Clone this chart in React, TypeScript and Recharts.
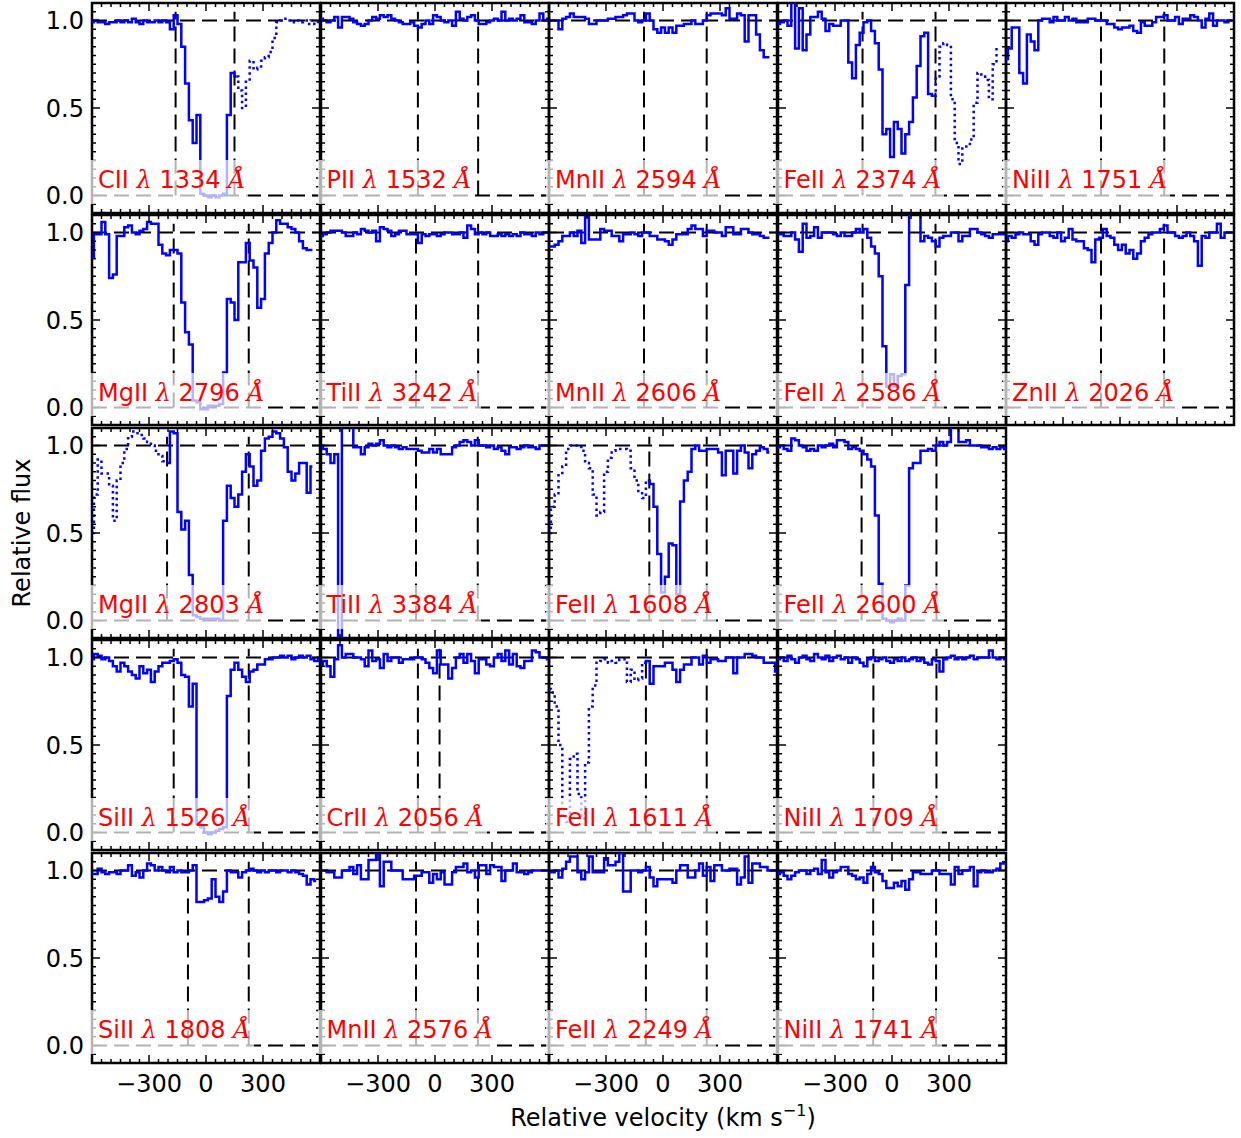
import React from 'react'
import { LineChart, Line, XAxis, YAxis, ReferenceLine, ReferenceArea } from 'recharts'

// velocity grid of the rebinned spectra (km/s)
const velocity = [
  -600, -580, -560, -540, -520, -500, -480, -460, -440, -420,
  -400, -380, -360, -340, -320, -300, -280, -260, -240, -220,
  -200, -180, -160, -140, -120, -100, -80, -60, -40, -20,
  0, 20, 40, 60, 80, 100, 120, 140, 160, 180,
  200, 220, 240, 260, 280, 300, 320, 340, 360, 380,
  400, 420, 440, 460, 480, 500, 520, 540, 560, 580,
  600,
]

// normalised flux, one value per velocity bin (null = no coverage)
const ciiFlux = [
  0.99, 1.0, 0.99, 0.99, 0.98, 0.99, 0.99, 1.0, 0.99, 1.0,
  0.99, 1.01, 0.99, 0.98, 1.0, 0.99, 0.99, 1.0, 0.99, 1.0,
  0.99, 0.95, 1.03, 0.98, 0.85, 0.64, 0.43, 0.3, 0.46, 0.01,
  0.0, -0.01, 0.0, -0.01, 0.0, 0.01, 0.46, 0.7, 0.68, 0.6,
  0.5, 0.65, 0.77, 0.72, 0.73, 0.77, 0.79, 0.82, 0.9, 0.99,
  1.0, 1.01, 1.0, 0.99, 1.0, 0.99, 1.0, 0.98, 1.0, 0.98,
  1.0,
]
const mgii2796Flux = [
  0.86, 0.99, 0.99, 1.06, 0.99, 0.74, 0.76, 0.98, 0.98, 1.03,
  1.04, 1.0, 0.99, 1.01, 1.02, 1.06, 1.05, 1.05, 0.93, 0.88,
  0.87, 0.9, 0.9, 0.88, 0.6, 0.43, 0.36, 0.04, 0.03, -0.01,
  -0.01, 0.01, 0.01, 0.01, 0.02, 0.2, 0.62, 0.6, 0.5, 0.83,
  0.83, 0.94, 0.84, 0.8, 0.57, 0.62, 0.88, 0.94, 1.0, 1.07,
  1.05, 1.05, 1.03, 1.02, 1.0, 0.95, 0.91, 0.9, 0.9, null,
  null,
]
const mgii2803Flux = [
  0.5, 0.72, 0.92, 0.84, 0.84, 0.77, 0.57, 0.8, 0.9, 0.98,
  1.05, 1.08, 1.07, 1.06, 1.04, 1.02, 1.0, 0.97, 0.94, 0.91,
  0.9, 1.08, 1.07, 0.62, 0.52, 0.57, 0.26, 0.03, 0.02, 0.01,
  0.01, 0.01, 0.01, 0.01, 0.0, 0.57, 0.77, 0.7, 0.65, 0.72,
  0.85, 0.95, 0.88, 0.77, 0.8, 0.97, 1.04, 1.05, 1.08, 1.07,
  1.04, 0.99, 0.85, 0.8, 0.84, 0.9, 0.9, 0.73, 0.88, null,
  null,
]
const sii1526Flux = [
  0.99, 1.02, 1.01, 0.99, 1.0, 0.98, 0.95, 0.92, 0.97, 0.95,
  0.92, 0.9, 0.88, 0.95, 0.91, 0.93, 0.86, 0.92, 0.95, 0.97,
  0.97, 0.98, 0.99, 0.97, 0.9, 0.89, 0.72, 0.85, 0.05, 0.03,
  0.0, -0.01, 0.0, 0.01, 0.02, 0.03, 0.78, 0.93, 0.97, 0.93,
  0.89, 0.86, 0.92, 0.93, 0.96, 0.96, 0.99, 0.99, 1.0, 1.0,
  1.01, 1.0, 1.01, 0.99, 1.0, 1.01, 1.0, 1.01, 0.99, 0.98,
  1.0,
]
const sii1808Flux = [
  0.98, 0.98, 1.01, 0.99, 0.98, 0.99, 0.99, 0.98, 1.0, 1.0,
  1.03, 0.97, 0.99, 0.96, 1.0, 1.04, 1.03, 1.0, 1.02, 1.0,
  0.99, 1.02, 0.99, 1.0, 0.99, 0.99, 1.0, 1.03, 0.82, 0.82,
  0.83, 0.84, 0.95, 0.85, 0.82, 0.88, 1.0, 0.99, 0.99, 0.96,
  0.99, 1.0, 1.01, 1.0, 0.99, 1.0, 0.99, 1.0, 1.0, 0.99,
  1.0, 1.0, 0.99, 1.0, 0.99, 0.98, 0.97, 0.92, 0.95, 0.94,
  null,
]
const pii1532Flux = [
  1.01, 1.0, 0.99, 1.0, 1.02, 0.96, 1.02, 1.02, 1.01, 0.99,
  0.98, 0.97, 0.98, 1.0, 1.02, 1.01, 1.03, 1.02, 1.03, 1.01,
  1.0, 0.99, 0.98, 0.98, 0.99, 0.97, 0.96, 0.98, 1.0, 0.98,
  1.03, 1.02, 1.0, 0.99, 1.0, 0.97, 1.05, 1.01, 1.0, 1.02,
  1.03, 1.0, 0.98, 0.98, 0.99, 1.0, 1.01, 1.0, 1.05, 1.0,
  1.01, 1.0, 1.01, 1.03, 0.99, 0.99, 0.98, 1.0, 1.04, 1.0,
  1.01,
]
const tii3242Flux = [
  0.98, 0.99, 1.0, 1.01, 1.01, 1.01, 1.0, 0.98, 0.98, 1.0,
  0.99, 1.02, 1.01, 1.0, 1.01, 0.95, 1.03, 1.02, 1.01, 0.98,
  0.99, 1.01, 1.01, 0.99, 0.99, 0.99, 0.94, 0.99, 0.98, 0.99,
  0.99, 0.98, 0.99, 1.0, 1.0, 0.99, 0.99, 1.0, 0.97, 1.04,
  1.02, 0.99, 1.0, 0.99, 1.0, 0.98, 0.98, 0.99, 0.98, 0.99,
  0.98, 0.99, 0.98, 1.0, 0.99, 0.99, 0.98, 1.0, 0.99, 1.0,
  1.0,
]
const tii3384Flux = [
  1.0, 0.98, 0.95, 0.9, 0.95, -0.3, 1.3, 1.3, 1.3, 0.99,
  0.99, 0.95, 0.99, 1.01, 1.0, 1.01, 1.03, 1.0, 0.99, 1.0,
  0.99, 0.98, 0.99, 0.98, 0.98, 0.98, 0.97, 0.96, 0.96, 0.98,
  0.96, 0.98, 0.95, 0.95, 0.95, 0.99, 1.0, 1.02, 1.03, 1.02,
  1.0, 1.03, 1.0, 1.0, 0.99, 1.0, 0.98, 0.99, 0.97, 0.95,
  0.99, 0.99, 0.98, 0.99, 1.0, 0.99, 0.99, 0.98, 1.0, 1.0,
  1.0,
]
const crii2056Flux = [
  0.96, 0.98, 0.95, 0.89, 0.99, 1.07, 1.0, 1.02, 1.02, 1.0,
  1.0, 0.99, 0.95, 1.04, 0.98, 0.99, 0.94, 1.02, 0.98, 1.0,
  1.0, 0.97, 0.99, 0.99, 0.99, 1.0, 1.0, 0.99, 0.97, 0.94,
  0.91, 1.04, 0.96, 0.96, 0.88, 0.94, 1.0, 1.02, 0.97, 1.02,
  0.98, 0.91, 0.99, 0.99, 0.96, 0.95, 1.0, 1.02, 0.98, 1.04,
  0.96, 1.02, 0.95, 0.94, 0.98, 0.98, 1.04, 1.03, 1.0, 1.0,
  0.99,
]
const mnii2576Flux = [
  1.0, 1.0, 0.99, 0.99, 0.96, 0.96, 1.0, 1.0, 1.02, 0.98,
  1.03, 0.95, 0.95, 1.06, 1.06, 1.12, 0.91, 1.05, 1.05, 1.0,
  1.0, 1.0, 0.95, 0.95, 0.95, 0.97, 0.97, 0.99, 0.99, 0.93,
  0.98, 0.95, 0.99, 0.92, 0.92, 0.99, 1.02, 1.02, 1.04, 0.99,
  1.0, 0.96, 1.03, 1.03, 0.98, 1.03, 1.02, 1.02, 0.94, 1.0,
  1.0, 1.04, 0.99, 0.99, 0.98, 0.99, 1.0, 1.0, 1.0, 1.0,
  1.0,
]
const mnii2594Flux = [
  1.0, 1.0, 1.0, 0.95, 1.01, 1.02, 1.04, 1.02, 1.02, 1.02,
  1.01, 0.98, 0.98, 1.0, 1.0, 1.0, 1.01, 1.01, 1.02, 1.02,
  1.03, 1.04, 1.04, 1.0, 0.99, 1.0, 1.04, 1.0, 0.95, 0.93,
  0.96, 0.93, 0.96, 0.93, 0.97, 0.97, 0.98, 0.98, 1.0, 0.98,
  0.98, 1.0, 1.03, 1.04, 1.04, 1.04, 1.03, 1.07, 1.01, 1.01,
  1.04, 1.03, 0.88, 1.03, 1.03, 0.92, 0.83, 0.79, 0.79, null,
  null,
]
const mnii2606Flux = [
  0.92, 0.92, 0.93, 0.95, 0.98, 0.98, 1.0, 0.98, 1.01, 0.94,
  1.09, 0.96, 0.96, 0.96, 1.02, 1.01, 1.01, 0.98, 0.98, 0.95,
  0.99, 0.99, 1.0, 0.99, 0.98, 1.0, 1.0, 0.98, 0.98, 0.96,
  0.96, 0.95, 0.93, 0.96, 0.99, 0.99, 0.99, 1.02, 1.04, 1.02,
  1.02, 0.98, 1.01, 1.01, 1.0, 1.0, 0.98, 1.03, 1.03, 0.99,
  0.99, 1.02, 1.02, 1.0, 0.99, 0.99, 0.98, 0.97, 0.97, null,
  null,
]
const feii1608Flux = [
  0.5, 0.65, 0.72, 0.83, 0.88, 0.98, 1.0, 1.0, 1.0, 0.97,
  0.9, 0.87, 0.72, 0.6, 0.62, 0.85, 0.93, 0.97, 0.98, 0.98,
  0.98, 0.97, 0.87, 0.8, 0.74, 0.7, 0.8, 0.78, 0.65, 0.38,
  0.16, 0.25, 0.44, 0.43, 0.15, 0.68, 0.8, 0.85, 0.98, 1.0,
  0.97, 0.97, 0.98, 0.98, 0.98, 0.96, 0.83, 0.97, 0.97, 0.84,
  0.97, 1.0, 0.96, 0.87, 0.95, 0.97, 0.99, 0.98, 0.96, null,
  null,
]
const feii1611Flux = [
  0.82, 0.8, 0.72, 0.5, 0.1, 0.06, 0.42, 0.45, 0.22, 0.08,
  0.4, 0.72, 0.84, 0.97, 0.98, 0.99, 0.97, 0.98, 0.97, 0.99,
  0.99, 0.86, 0.93, 0.87, 0.88, 0.97, 0.98, 0.85, 0.95, 0.95,
  0.95, 0.97, 0.97, 0.93, 0.86, 0.93, 0.96, 0.96, 1.0, 1.0,
  0.96, 1.01, 0.97, 0.99, 0.99, 0.98, 0.98, 1.0, 1.0, 0.91,
  1.0, 1.0, 1.02, 1.02, 1.01, 1.0, 1.0, 0.97, 0.97, 0.97,
  0.92,
]
const feii2249Flux = [
  0.99, 0.99, 1.0, 0.96, 1.01, 1.05, 1.08, 1.08, 0.99, 0.95,
  0.99, 1.08, 0.99, 0.99, 0.99, 1.07, 1.03, 1.03, 1.05, 1.1,
  0.88, 0.88, 1.0, 1.0, 0.99, 1.0, 1.02, 0.96, 0.91, 0.95,
  0.95, 0.95, 0.95, 0.93, 1.0, 1.03, 1.03, 0.96, 0.96, 1.0,
  1.04, 0.97, 1.02, 0.94, 1.03, 1.03, 1.0, 1.0, 1.01, 1.01,
  0.92, 0.96, 1.08, 0.93, 1.04, 1.04, 1.02, 1.02, 1.0, 1.0,
  1.0,
]
const feii2374Flux = [
  0.98, 0.99, 1.0, 0.97, 1.15, 0.84, 1.07, 0.83, 0.92, 1.02,
  1.02, 1.05, 1.01, 0.94, 0.98, 0.97, 0.97, 1.0, 1.0, 0.76,
  0.67, 0.86, 0.93, 0.99, 1.0, 0.94, 0.87, 0.72, 0.35, 0.38,
  0.22, 0.42, 0.38, 0.24, 0.35, 0.42, 0.56, 0.74, 0.91, 0.93,
  0.58, 0.57, 0.68, 0.85, 0.87, 0.86, 0.55, 0.3, 0.18, 0.28,
  0.28, 0.32, 0.53, 0.7, 0.68, 0.66, 0.55, 0.75, 0.85, null,
  null,
]
const feii2586Flux = [
  0.99, 0.99, 0.98, 0.98, 1.0, 0.96, 0.89, 1.05, 0.97, 0.98,
  1.03, 0.97, 1.0, 1.0, 1.0, 0.99, 0.98, 1.0, 0.98, 0.98,
  1.0, 1.02, 1.0, 1.02, 0.97, 0.92, 0.88, 0.75, 0.35, 0.12,
  0.19, 0.12, 0.18, 0.19, 0.7, 1.2, 1.2, 1.2, 0.95, 0.98,
  0.97, 0.95, 0.92, 0.97, 0.98, 0.98, 1.0, 1.0, 0.95, 0.98,
  0.98, 1.02, 1.02, 1.0, 0.99, 0.98, 0.97, 0.99, 0.99, 0.99,
  0.99,
]
const feii2600Flux = [
  0.99, 1.0, 0.98, 0.97, 1.04, 1.03, 1.0, 0.99, 0.97, 0.98,
  0.97, 1.0, 0.99, 1.0, 1.01, 0.99, 1.03, 1.03, 1.02, 0.98,
  0.99, 0.98, 0.97, 0.95, 0.92, 0.88, 0.6, 0.21, 0.01, 0.0,
  -0.01, 0.0, 0.01, 0.0, 0.2, 0.87, 0.9, 0.9, 0.97, 0.97,
  0.98, 0.97, 1.0, 1.02, 1.0, 1.02, 1.12, 1.12, 1.02, 1.02,
  1.03, 1.0, 1.0, 1.0, 0.99, 0.99, 0.98, 0.99, 0.98, 0.99,
  0.98,
]
const nii1709Flux = [
  0.99, 1.0, 0.98, 1.01, 0.99, 0.97, 1.0, 1.01, 0.99, 0.98,
  1.02, 1.0, 0.99, 1.01, 0.98, 1.0, 1.01, 0.99, 1.0, 0.97,
  1.0, 0.99, 0.97, 0.95, 0.99, 1.0, 0.98, 0.99, 1.0, 0.98,
  0.97, 0.99, 0.98, 1.0, 0.98, 0.99, 1.0, 0.98, 0.99, 0.97,
  0.96, 0.99, 0.98, 0.92, 0.99, 1.0, 1.01, 0.99, 1.0, 0.99,
  1.0, 1.01, 0.99, 1.0, 1.0, 1.0, 1.04, 1.0, 0.99, 1.0,
  0.99,
]
const nii1741Flux = [
  0.98, 0.99, 0.97, 0.95, 0.97, 0.99, 1.0, 1.0, 0.98, 1.0,
  1.01, 0.98, 1.06, 0.99, 0.96, 0.99, 1.0, 1.02, 1.02, 0.98,
  0.97, 0.95, 0.96, 0.93, 0.98, 1.02, 0.99, 0.98, 0.94, 0.9,
  0.9, 0.93, 0.91, 0.94, 0.89, 0.95, 0.99, 0.99, 0.98, 0.98,
  0.98, 1.0, 1.0, 0.98, 0.98, 0.98, 0.92, 1.02, 0.98, 1.0,
  1.0, 1.02, 0.91, 0.99, 1.0, 0.99, 0.99, 1.0, 1.01, 1.04,
  1.04,
]
const nii1751Flux = [
  0.78, 0.84, 0.96, 0.96, 0.7, 0.64, 0.92, 0.88, 0.83, 1.0,
  1.01, 1.01, 0.99, 1.02, 1.0, 1.0, 1.02, 1.0, 1.01, 0.99,
  0.99, 0.99, 1.01, 1.01, 1.0, 1.0, 1.0, 0.98, 0.98, 0.96,
  0.95, 0.96, 0.96, 0.97, 0.94, 0.93, 0.99, 0.97, 0.97, 0.99,
  1.02, 1.02, 1.03, 1.0, 1.0, 1.02, 0.98, 1.01, 1.01, 1.03,
  1.02, 1.0, 0.96, 1.01, 1.04, 0.97, 1.0, 1.0, 0.99, 1.0,
  1.0,
]
const znii2026Flux = [
  0.95, 0.98, 0.97, 0.99, 1.0, 0.99, 0.99, 0.95, 0.93, 0.99,
  1.0, 1.0, 0.98, 0.97, 1.0, 0.95, 0.97, 1.02, 0.96, 0.95,
  0.95, 0.91, 0.9, 0.83, 0.96, 0.97, 1.02, 0.98, 0.97, 0.93,
  0.9, 0.93, 0.88, 0.9, 0.85, 0.88, 0.95, 0.97, 0.99, 1.0,
  1.0, 1.02, 1.04, 1.0, 1.0, 0.98, 0.97, 0.98, 1.0, 0.98,
  0.95, 0.81, 0.98, 0.97, 1.0, 1.0, 1.05, 0.97, 1.0, 1.0,
  1.0,
]

// integration windows (km/s) and blended stretches drawn dotted
const ciiWindow = [-160, 150]
const mgii2796Window = [-170, 225]
const mgii2803Window = [-205, 225]
const sii1526Window = [-170, 225]
const sii1808Window = [-95, 225]
const pii1532Window = [-90, 227]
const tii3242Window = [-100, 227]
const tii3384Window = [-100, 225]
const crii2056Window = [-90, 24]
const mnii2576Window = [-100, 226]
const mnii2594Window = [-100, 230]
const mnii2606Window = [-100, 230]
const feii1608Window = [-72, 230]
const feii1611Window = [-90, 230]
const feii2249Window = [-90, 230]
const feii2374Window = [-155, 229]
const feii2586Window = [-155, 229]
const feii2600Window = [-160, 234]
const nii1709Window = [-98, 234]
const nii1741Window = [-99, 232]
const nii1751Window = [-100, 233]
const znii2026Window = [-100, 232]

const ciiBlend = [160, 620]
const mgii2803Blend = [-620, -200]
const feii1608Blend = [-620, -80]
const feii1611Blend = [-620, -100]
const feii2374Blend = [220, 620]

const velTicks = [
  -550, -500, -450, -400, -350, -300, -250, -200, -150, -100, -50,
  0, 50, 100, 150, 200, 250, 300, 350, 400, 450, 500, 550,
]
const velMajor = [-300, 0, 300]
const fluxTicks = [
  -0.05, 0, 0.05, 0.1, 0.15, 0.2, 0.25, 0.3, 0.35, 0.4, 0.45, 0.5,
  0.55, 0.6, 0.65, 0.7, 0.75, 0.8, 0.85, 0.9, 0.95, 1.0, 1.05,
]
const fluxMajor = [0, 0.5, 1.0]

type Spec = {
  ion: string
  wave: string
  flux: (number | null)[]
  window: number[]
  blend?: number[]
}

const rows: Spec[][] = [
  [
    { ion: 'CII', wave: '1334', flux: ciiFlux, window: ciiWindow, blend: ciiBlend },
    { ion: 'PII', wave: '1532', flux: pii1532Flux, window: pii1532Window },
    { ion: 'MnII', wave: '2594', flux: mnii2594Flux, window: mnii2594Window },
    { ion: 'FeII', wave: '2374', flux: feii2374Flux, window: feii2374Window, blend: feii2374Blend },
    { ion: 'NiII', wave: '1751', flux: nii1751Flux, window: nii1751Window },
  ],
  [
    { ion: 'MgII', wave: '2796', flux: mgii2796Flux, window: mgii2796Window },
    { ion: 'TiII', wave: '3242', flux: tii3242Flux, window: tii3242Window },
    { ion: 'MnII', wave: '2606', flux: mnii2606Flux, window: mnii2606Window },
    { ion: 'FeII', wave: '2586', flux: feii2586Flux, window: feii2586Window },
    { ion: 'ZnII', wave: '2026', flux: znii2026Flux, window: znii2026Window },
  ],
  [
    { ion: 'MgII', wave: '2803', flux: mgii2803Flux, window: mgii2803Window, blend: mgii2803Blend },
    { ion: 'TiII', wave: '3384', flux: tii3384Flux, window: tii3384Window },
    { ion: 'FeII', wave: '1608', flux: feii1608Flux, window: feii1608Window, blend: feii1608Blend },
    { ion: 'FeII', wave: '2600', flux: feii2600Flux, window: feii2600Window },
  ],
  [
    { ion: 'SiII', wave: '1526', flux: sii1526Flux, window: sii1526Window },
    { ion: 'CrII', wave: '2056', flux: crii2056Flux, window: crii2056Window },
    { ion: 'FeII', wave: '1611', flux: feii1611Flux, window: feii1611Window, blend: feii1611Blend },
    { ion: 'NiII', wave: '1709', flux: nii1709Flux, window: nii1709Window },
  ],
  [
    { ion: 'SiII', wave: '1808', flux: sii1808Flux, window: sii1808Window },
    { ion: 'MnII', wave: '2576', flux: mnii2576Flux, window: mnii2576Window },
    { ion: 'FeII', wave: '2249', flux: feii2249Flux, window: feii2249Window },
    { ion: 'NiII', wave: '1741', flux: nii1741Flux, window: nii1741Window },
  ],
]

const FONT = '"DejaVu Sans", sans-serif'
const MATH = { fontFamily: '"DejaVu Serif", serif', fontStyle: 'italic' as const }
const FS = 24
const GRID_LEFT = 92
const GRID_TOP = 2.5
const COL_W = 228.5
const ROW_H = 212.5
const PW = 228
const PH = 210
const Y_MIN = -0.1
const Y_MAX = 1.1
const LAST_ROW = rows.length - 1

const yPix = (f: number) => ((Y_MAX - f) / (Y_MAX - Y_MIN)) * PH

function velocityTick(showLabel: boolean) {
  return (props: any) => {
    const { x, y, payload } = props
    const v = payload.value
    const major = velMajor.includes(v)
    const len = major ? 8 : 4
    return (
      <g>
        <line x1={x} x2={x} y1={y} y2={y - len} stroke="#000" strokeWidth={1.5} />
        <line x1={x} x2={x} y1={y - PH} y2={y - PH + len} stroke="#000" strokeWidth={1.5} />
        {showLabel && major && (
          <text x={x} y={y + 29} textAnchor="middle" fontSize={FS} fontFamily={FONT} fill="#000">
            {v < 0 ? `\u2212${Math.abs(v)}` : `${v}`}
          </text>
        )}
      </g>
    )
  }
}

function fluxTick(showLabel: boolean) {
  return (props: any) => {
    const { x, y, payload } = props
    const f = payload.value
    const major = fluxMajor.some((m) => Math.abs(m - f) < 1e-6)
    const len = major ? 8 : 4
    return (
      <g>
        <line x1={x} x2={x + len} y1={y} y2={y} stroke="#000" strokeWidth={1.5} />
        <line x1={x + PW} x2={x + PW - len} y1={y} y2={y} stroke="#000" strokeWidth={1.5} />
        {showLabel && major && (
          <text x={x - 8} y={y} dy="0.36em" textAnchor="end" fontSize={FS} fontFamily={FONT} fill="#000">
            {f.toFixed(1)}
          </text>
        )}
      </g>
    )
  }
}

function Panel({ spec, row, col }: { spec: Spec; row: number; col: number }) {
  const mLeft = col === 0 ? 92 : 3
  const mBottom = row === LAST_ROW ? 44 : 3
  const points = velocity
    .map((v, i) => ({ v, f: spec.flux[i] }))
    .filter((p) => p.f !== null && p.f !== undefined)

  let solid = points
  let dotted: typeof points | null = null
  if (spec.blend) {
    const [lo, hi] = spec.blend
    solid = points.filter((p) => p.v <= lo || p.v >= hi)
    dotted = points.filter((p) => p.v >= lo && p.v <= hi)
  }

  return (
    <div
      style={{
        position: 'absolute',
        left: GRID_LEFT + col * COL_W - mLeft,
        top: GRID_TOP + row * ROW_H - 3,
      }}
    >
      <LineChart
        width={PW + mLeft + 3}
        height={PH + 3 + mBottom}
        margin={{ top: 3, right: 3, left: mLeft - 1, bottom: mBottom - 1 }}
      >
        <XAxis
          type="number"
          dataKey="v"
          domain={[-600, 600]}
          allowDataOverflow
          ticks={velTicks}
          interval={0}
          height={1}
          tickSize={0}
          tickMargin={0}
          axisLine={false}
          tickLine={false}
          tick={velocityTick(row === LAST_ROW)}
        />
        <YAxis
          type="number"
          domain={[Y_MIN, Y_MAX]}
          allowDataOverflow
          ticks={fluxTicks}
          interval={0}
          width={1}
          tickSize={0}
          tickMargin={0}
          axisLine={false}
          tickLine={false}
          tick={fluxTick(col === 0)}
        />
        <ReferenceLine y={1} stroke="#000" strokeWidth={2} strokeDasharray="15 7" />
        <ReferenceLine y={0} stroke="#000" strokeWidth={2} strokeDasharray="15 7" />
        {spec.window.map((w) => (
          <ReferenceLine
            key={w}
            segment={[
              { x: w, y: 0 },
              { x: w, y: 1.05 },
            ]}
            stroke="#000"
            strokeWidth={2}
            strokeDasharray="15 7"
          />
        ))}
        <Line
          data={solid}
          dataKey="f"
          type="step"
          stroke="#0000ff"
          strokeWidth={2.5}
          dot={false}
          activeDot={false}
          isAnimationActive={false}
        />
        {dotted && (
          <Line
            data={dotted}
            dataKey="f"
            type="step"
            stroke="#0000ff"
            strokeWidth={2.5}
            strokeDasharray="2.5 3.5"
            dot={false}
            activeDot={false}
            isAnimationActive={false}
          />
        )}
        <ReferenceArea
          x1={-600}
          x2={600}
          y1={Y_MIN}
          y2={Y_MAX}
          fill="none"
          fillOpacity={0}
          stroke="#000"
          strokeWidth={2.5}
        />
      </LineChart>
    </div>
  )
}

function LineLabel({ spec, row, col }: { spec: Spec; row: number; col: number }) {
  const top = GRID_TOP + row * ROW_H + yPix(0.2)
  return (
    <div
      style={{
        position: 'absolute',
        left: GRID_LEFT + col * COL_W - 3,
        top,
        height: yPix(-0.05) - yPix(0.2),
        padding: '0 3px 0 9px',
        background: 'rgba(255,255,255,0.7)',
        color: '#ff0000',
        fontSize: FS,
        lineHeight: '40px',
        whiteSpace: 'nowrap',
      }}
    >
      {spec.ion} <span style={MATH}>λ</span> {spec.wave} <span style={MATH}>Å</span>
    </div>
  )
}

export default function App() {
  return (
    <div
      style={{
        position: 'absolute',
        left: 0,
        top: 0,
        width: 1241,
        height: 1138,
        background: '#fff',
        fontFamily: FONT,
        overflow: 'hidden',
      }}
    >
      {rows.map((r, ri) => r.map((spec, ci) => <Panel key={`${ri}-${ci}`} spec={spec} row={ri} col={ci} />))}
      {rows.map((r, ri) =>
        r.map((spec, ci) => <LineLabel key={`l${ri}-${ci}`} spec={spec} row={ri} col={ci} />),
      )}
      <div
        style={{
          position: 'absolute',
          left: 22,
          top: 533,
          transform: 'translate(-50%, -50%) rotate(-90deg)',
          fontSize: FS,
          whiteSpace: 'nowrap',
          color: '#000',
        }}
      >
        Relative flux
      </div>
      <div
        style={{
          position: 'absolute',
          left: 663,
          top: 1106,
          transform: 'translateX(-50%)',
          fontSize: FS,
          lineHeight: '24px',
          whiteSpace: 'nowrap',
          color: '#000',
        }}
      >
        Relative velocity (km s
        <span style={{ fontSize: 16, position: 'relative', top: -10 }}>−1</span>)
      </div>
    </div>
  )
}
